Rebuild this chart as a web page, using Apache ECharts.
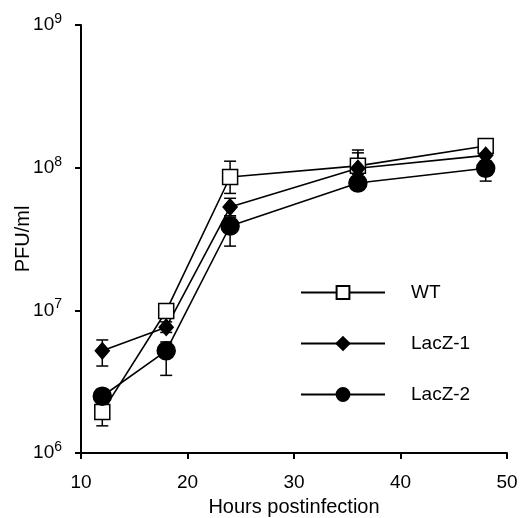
<!DOCTYPE html>
<html>
<head>
<meta charset="utf-8">
<script src="https://cdn.jsdelivr.net/npm/echarts@6/dist/echarts.min.js"></script>
<style>
  html, body { margin: 0; padding: 0; background: #fff; }
  #chart { width: 521px; height: 518px; }
</style>
</head>
<body>
<div id="chart"></div>
<script>
// 数据
const hours = [12, 18, 24, 36, 48];
const wt = [1.94e6, 9.9e6, 8.6e7, 1.03e8, 1.42e8];
const wtLow = [1.55e6, 9.2e6, 6.6e7, 9.0e7, 1.32e8];
const wtHigh = [2.3e6, 1.07e7, 1.11e8, 1.33e8, 1.52e8];
const lacz1 = [5.2e6, 7.6e6, 5.3e7, 9.9e7, 1.22e8];
const lacz1Low = [4.07e6, 7.0e6, 4.6e7, 8.6e7, 1.12e8];
const lacz1High = [6.2e6, 8.3e6, 6.1e7, 1.27e8, 1.33e8];
const lacz2 = [2.5e6, 5.2e6, 3.9e7, 7.8e7, 9.9e7];
const lacz2Low = [2.2e6, 3.5e6, 2.82e7, 7.0e7, 8.05e7];
const lacz2High = [2.8e6, 6.0e6, 4.5e7, 8.6e7, 1.1e8];
const yTicks = [1e6, 1e7, 1e8, 1e9];

const font = 'Liberation Sans, Arial, sans-serif';

function pts(ys) {
  return hours.map((h, i) => [h, ys[i]]);
}
function errData(lo, hi) {
  return hours.map((h, i) => [h, lo[i], hi[i]]);
}
// 误差线
function errSeries(lo, hi) {
  return {
    type: 'custom',
    silent: true,
    z: 1,
    data: errData(lo, hi),
    encode: { x: 0, y: [1, 2] },
    renderItem(params, api) {
      const x = api.value(0);
      const a = api.coord([x, api.value(1)]);
      const b = api.coord([x, api.value(2)]);
      const w = 6;
      const st = { stroke: '#000', lineWidth: 1.5 };
      return {
        type: 'group',
        children: [
          { type: 'line', shape: { x1: a[0], y1: a[1], x2: b[0], y2: b[1] }, style: st },
          { type: 'line', shape: { x1: a[0] - w, y1: a[1], x2: a[0] + w, y2: a[1] }, style: st },
          { type: 'line', shape: { x1: b[0] - w, y1: b[1], x2: b[0] + w, y2: b[1] }, style: st },
        ],
      };
    },
  };
}
function lineSeries(name, ys, symbol, size, fill) {
  return {
    name,
    type: 'line',
    data: pts(ys),
    symbol,
    symbolSize: size,
    showAllSymbol: true,
    z: 3,
    lineStyle: { color: '#000', width: 1.6 },
    itemStyle: { color: fill, borderColor: '#000', borderWidth: 1.5 },
    emphasis: { disabled: true },
  };
}

const chart = echarts.init(document.getElementById('chart'));
chart.setOption({
  animation: false,
  backgroundColor: '#fff',
  grid: { left: 81, right: 14, top: 25, bottom: 65, containLabel: false, outerBoundsMode: 'none' },
  legend: {
    orient: 'vertical',
    left: 300,
    top: 283,
    padding: 0,
    itemWidth: 84,
    itemHeight: 16,
    itemGap: 32,
    textStyle: { fontFamily: font, fontSize: 19, lineHeight: 16, color: '#000', padding: [0, 0, 0, 21] },
    data: ['WT', 'LacZ-1', 'LacZ-2'],
  },
  xAxis: {
    type: 'value',
    min: 10,
    max: 50,
    interval: 10,
    name: 'Hours postinfection',
    nameLocation: 'middle',
    nameGap: 44,
    nameTextStyle: { fontFamily: font, fontSize: 20, color: '#000' },
    axisLine: { lineStyle: { color: '#000', width: 2 } },
    axisTick: { length: 6, lineStyle: { color: '#000', width: 2 } },
    axisLabel: { fontFamily: font, fontSize: 19, color: '#000', margin: 20 },
    splitLine: { show: false },
  },
  yAxis: {
    type: 'log',
    logBase: 10,
    min: yTicks[0],
    max: yTicks[yTicks.length - 1],
    name: 'PFU/ml',
    nameLocation: 'middle',
    nameGap: 48,
    nameMoveOverlap: false,
    nameTextStyle: { fontFamily: font, fontSize: 20, color: '#000' },
    axisLine: { lineStyle: { color: '#000', width: 2 } },
    axisTick: { length: 6, lineStyle: { color: '#000', width: 2 } },
    axisLabel: {
      margin: 19,
      formatter(v) {
        return '{b|10}{s|' + Math.round(Math.log10(v)) + '}';
      },
      rich: {
        b: { fontFamily: font, fontSize: 19, color: '#000' },
        s: { fontFamily: font, fontSize: 14, color: '#000', padding: [0, 0, 12, 0] },
      },
    },
    splitLine: { show: false },
  },
  series: [
    errSeries(wtLow, wtHigh),
    errSeries(lacz1Low, lacz1High),
    errSeries(lacz2Low, lacz2High),
    lineSeries('WT', wt, 'rect', 15, '#fff'),
    lineSeries('LacZ-1', lacz1, 'diamond', [14, 16], '#000'),
    lineSeries('LacZ-2', lacz2, 'circle', 18, '#000'),
  ],
});
</script>
</body>
</html>
